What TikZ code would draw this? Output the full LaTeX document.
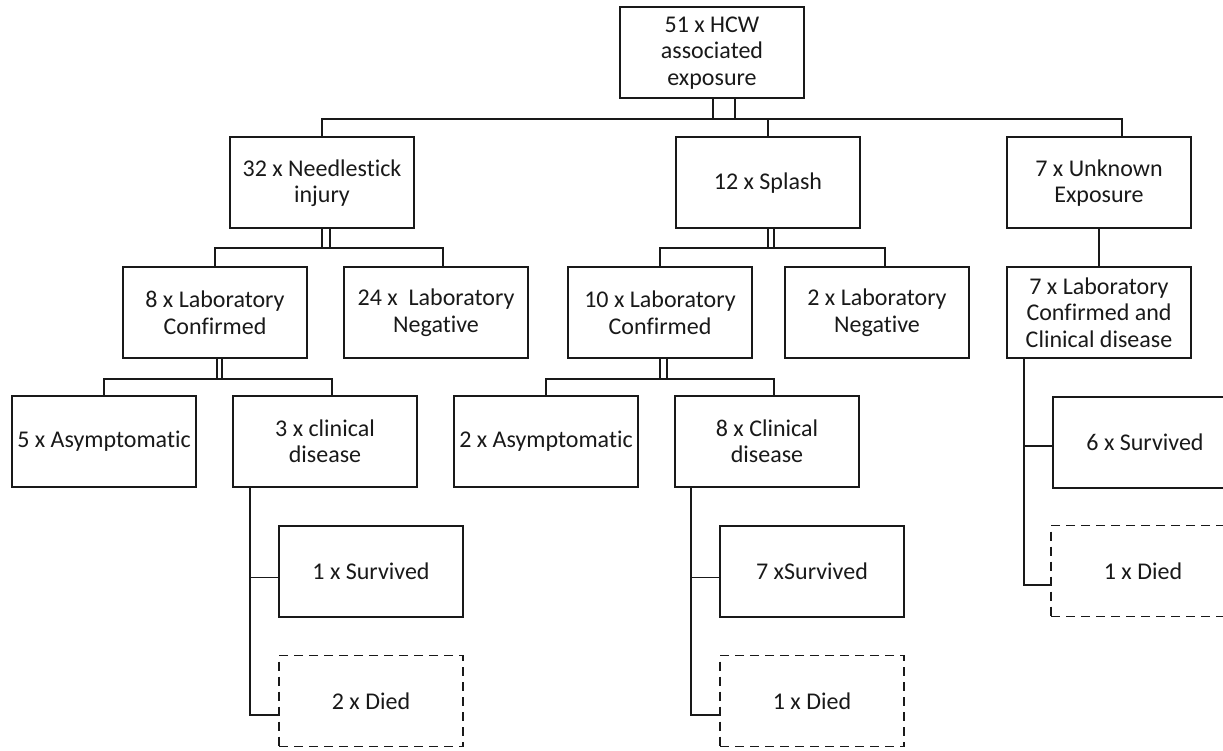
\documentclass[tikz,border=0pt]{standalone}
\usepackage{fontspec}
\setmainfont[Ligatures=NoCommon]{Carlito}

\begin{document}
\begin{tikzpicture}[x=1pt,y=-1pt,
  box/.style={draw=black!90, line width=2pt, minimum width=184pt, minimum height=91pt,
    align=center, inner sep=2pt, font=\fontsize{24}{26.5}\selectfont, text=black!90},
  deadbox/.style={box, line width=1.8pt, dash pattern=on 9pt off 6pt},
  link/.style={draw=black!90, line width=1.6pt}]
  \useasboundingbox (0,0) rectangle (1223,751);
  \clip (0,0) rectangle (1223,751);

  % Exposure
  \node[box] (root) at (712,53) {51 x HCW\\associated\\exposure};

  % Route of exposure
  \node[box] (needle)  at (322,183)  {32 x Needlestick\\injury};
  \node[box] (splash)  at (768,183)  {12 x Splash};
  \node[box] (unknown) at (1099,183) {7 x Unknown\\Exposure};

  % Laboratory results
  \node[box] (lab8)  at (215,312.5)  {8 x Laboratory\\Confirmed};
  \node[box] (lab24) at (436,312.5)  {24 x~ Laboratory\\Negative};
  \node[box] (lab10) at (660,312.5)  {10 x Laboratory\\Confirmed};
  \node[box] (lab2)  at (877,312.5)  {2 x Laboratory\\Negative};
  \node[box] (lab7)  at (1099,312.5) {7 x Laboratory\\Confirmed and\\Clinical disease};

  % Disease
  \node[box] (asym5) at (104,441.5) {5 x Asymptomatic};
  \node[box] (clin3) at (325,441.5) {3 x clinical\\disease};
  \node[box] (asym2) at (546,441.5) {2 x Asymptomatic};
  \node[box] (clin8) at (767,441.5) {8 x Clinical\\disease};
  \node[box] (surv6) at (1145,442)  {6 x Survived};

  % Outcome
  \node[box]     (surv1)  at (371,571.5) {1 x Survived};
  \node[deadbox] (died2)  at (371,701)   {2 x Died};
  \node[box]     (surv7)  at (812,571.5) {7 xSurvived};
  \node[deadbox] (died1)  at (812,701)   {1 x Died};
  \node[deadbox] (died1b) at (1143,571)  {1 x Died};

  % Level 1 connectors
  \coordinate (bus1) at (713,119);
  \draw[link] (needle.north) |- (bus1) -| ([xshift=23pt]unknown.north);
  \draw[link] (splash.north) -- (splash.north |- bus1);
  \draw[link] ([xshift=1pt]root.south) -- ([xshift=1pt]root.south |- bus1)
    -- ([xshift=23pt]root.south |- bus1) -- ([xshift=23pt]root.south);

  % Level 2 connectors
  \coordinate (bus2a) at (322,248);
  \draw[link] (lab8.north) |- (bus2a) -| ([xshift=7pt]lab24.north);
  \draw[link] (needle.south) -- (bus2a);
  \draw[link] ([xshift=8pt]needle.south) -- ([xshift=8pt]needle.south |- bus2a);

  \coordinate (bus2b) at (768,248);
  \draw[link] (lab10.north) |- (bus2b) -| ([xshift=8pt]lab2.north);
  \draw[link] (splash.south) -- (bus2b);
  \draw[link] ([xshift=6pt]splash.south) -- ([xshift=6pt]splash.south |- bus2b);

  \draw[link] (unknown.south) -- (lab7.north);

  % Level 3 connectors
  \coordinate (bus3a) at (217,379);
  \draw[link] (asym5.north) |- (bus3a) -| ([xshift=7pt]clin3.north);
  \draw[link] ([xshift=2pt]lab8.south) -- (bus3a);
  \draw[link] ([xshift=7pt]lab8.south) -- ([xshift=7pt]lab8.south |- bus3a);

  \coordinate (bus3b) at (660,379);
  \draw[link] (asym2.north) |- (bus3b) -| ([xshift=7pt]clin8.north);
  \draw[link] (lab10.south) -- (bus3b);
  \draw[link] ([xshift=7pt]lab10.south) -- ([xshift=7pt]lab10.south |- bus3b);

  % Outcome connectors
  \draw[link] ([xshift=18pt]clin3.south west) |- ([yshift=-6pt]surv1.west);
  \draw[link] ([xshift=18pt]clin3.south west) |- ([yshift=-14pt]died2.west);
  \draw[link] ([xshift=17pt]clin8.south west) |- ([yshift=-6pt]surv7.west);
  \draw[link] ([xshift=17pt]clin8.south west) |- ([yshift=-14pt]died1.west);
  \draw[link] ([xshift=18pt]lab7.south west) |- ([yshift=-4pt]surv6.west);
  \draw[link] ([xshift=18pt]lab7.south west) |- ([yshift=-14pt]died1b.west);

\end{tikzpicture}
\end{document}
